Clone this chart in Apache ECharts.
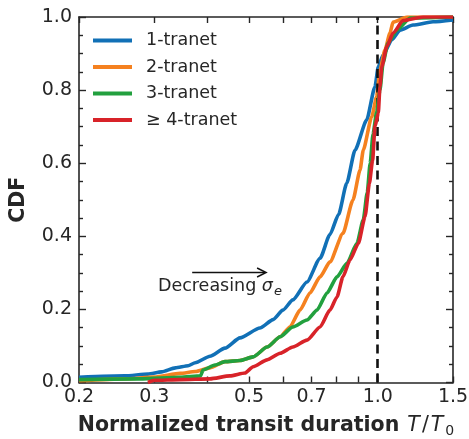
<!DOCTYPE html>
<html>
<head>
<meta charset="utf-8">
<script src="https://cdn.jsdelivr.net/npm/echarts@6/dist/echarts.min.js"></script>
<style>
  html, body { margin: 0; padding: 0; background: #ffffff; }
  #chart { width: 469px; height: 439px; }
</style>
</head>
<body>
<div id="chart"></div>
<script>
// Cumulative distributions of normalized transit duration, by multiplicity
const seriesNames = ['1-tranet', '2-tranet', '3-tranet', '\u2265 4-tranet'];
const seriesColors = ['#1170b6', '#f5811f', '#22a03e', '#d82329'];

// [T/T0, CDF]
const cdf1 = [[0.200,0.014],[0.256,0.018],[0.290,0.023],[0.312,0.029],[0.336,0.040],[0.360,0.046],
  [0.374,0.054],[0.405,0.072],[0.439,0.094],[0.476,0.122],[0.530,0.149],[0.569,0.172],[0.600,0.198],
  [0.633,0.226],[0.683,0.275],[0.733,0.340],[0.773,0.405],[0.810,0.460],[0.846,0.545],[0.885,0.636],
  [0.942,0.718],[0.985,0.809],[1.003,0.864],[1.029,0.896],[1.078,0.937],[1.128,0.964],[1.209,0.978],
  [1.347,0.987],[1.500,0.992]];
const cdf2 = [[0.200,0.005],[0.256,0.010],[0.300,0.015],[0.345,0.025],[0.374,0.030],[0.405,0.040],
  [0.439,0.057],[0.476,0.060],[0.511,0.070],[0.551,0.097],[0.591,0.125],[0.623,0.152],[0.658,0.198],
  [0.694,0.245],[0.733,0.289],[0.773,0.330],[0.829,0.408],[0.875,0.499],[0.909,0.581],[0.925,0.636],
  [0.968,0.727],[0.994,0.782],[1.012,0.855],[1.040,0.910],[1.068,0.956],[1.086,0.986],[1.171,1.000],
  [1.500,1.000]];
const cdf3 = [[0.200,0.008],[0.278,0.010],[0.345,0.014],[0.385,0.018],[0.390,0.034],[0.416,0.048],
  [0.439,0.057],[0.476,0.060],[0.511,0.070],[0.551,0.097],[0.591,0.125],[0.633,0.152],[0.683,0.171],
  [0.721,0.198],[0.761,0.245],[0.803,0.289],[0.847,0.326],[0.894,0.381],[0.925,0.445],[0.945,0.520],
  [0.960,0.600],[0.975,0.680],[0.994,0.740],[1.012,0.800],[1.029,0.874],[1.057,0.929],[1.108,0.964],
  [1.190,0.997],[1.500,1.000]];
const cdf4 = [[0.290,0.000],[0.300,0.006],[0.345,0.008],[0.405,0.010],[0.451,0.018],[0.489,0.026],
  [0.511,0.043],[0.551,0.062],[0.591,0.080],[0.633,0.097],[0.683,0.116],[0.733,0.152],[0.773,0.198],
  [0.803,0.234],[0.829,0.289],[0.861,0.335],[0.901,0.381],[0.934,0.454],[0.956,0.545],[0.973,0.609],
  [0.985,0.700],[1.003,0.737],[1.012,0.809],[1.022,0.864],[1.050,0.919],[1.086,0.956],[1.146,0.990],
  [1.276,1.000],[1.500,1.000]];

const xRange = [0.2, 1.5];
const xTickLabels = [0.2, 0.3, 0.5, 0.7, 1.0, 1.5];
const xMinorTicks = [0.2, 0.3, 0.4, 0.5, 0.6, 0.7, 0.8, 0.9, 1.0, 1.5];
const xMajorTicks = [1.0];
const yRange = [0, 1];
const yStep = 0.2;
const referenceX = 1.0;
const arrowFrom = [0.368, 0.301];
const arrowTo = [0.548, 0.301];
const noteAt = [0.306, 0.262];

const FONT = 'DejaVu Sans';
const INK = '#262626';
const lg = v => Math.log10(v);

const chart = echarts.init(document.getElementById('chart'), null, { renderer: 'canvas' });

const baseX = {
  type: 'value',
  min: lg(xRange[0]),
  max: lg(xRange[1]),
  splitLine: { show: false },
  axisLine: { show: true, onZero: false, lineStyle: { color: INK, width: 1.6 } }
};
const tickLine = { color: INK, width: 1.4 };

const curves = [cdf1, cdf2, cdf3, cdf4];
const series = curves.map((c, i) => ({
  name: seriesNames[i],
  type: 'line',
  data: c.map(p => [lg(p[0]), p[1]]),
  showSymbol: false,
  symbol: 'none',
  smooth: 0.2,
  smoothMonotone: 'x',
  lineStyle: { width: 3.6, color: seriesColors[i], join: 'round' },
  itemStyle: { color: seriesColors[i] },
  z: 3 + i,
  animation: false
}));
series.push({
  name: 'ref',
  type: 'line',
  data: [],
  z: 2,
  markLine: {
    silent: true,
    symbol: 'none',
    label: { show: false },
    animation: false,
    lineStyle: { color: '#111111', type: [9, 5.5], width: 2.6 },
    data: [{ xAxis: lg(referenceX) }]
  }
});

chart.setOption({
  animation: false,
  backgroundColor: '#ffffff',
  textStyle: { fontFamily: FONT },
  grid: { left: 79, right: 16, top: 17, bottom: 56.5, containLabel: false, outerBoundsMode: 'none' },
  legend: {
    data: seriesNames,
    orient: 'vertical',
    left: 93,
    top: 31.5,
    padding: 0,
    itemWidth: 39,
    itemHeight: 4,
    itemGap: 8.5,
    icon: 'rect',
    textStyle: { fontSize: 17.5, color: INK, fontFamily: FONT, padding: [0, 0, 0, 9] }
  },
  xAxis: [
    Object.assign({}, baseX, {
      position: 'bottom',
      axisLabel: {
        customValues: xTickLabels.map(lg),
        formatter: v => Math.pow(10, v).toFixed(1),
        fontSize: 19, color: INK, fontFamily: FONT, margin: 5
      },
      axisTick: { show: true, inside: true, length: 6, customValues: xMinorTicks.map(lg), lineStyle: tickLine },
      name: '{b|Normalized transit duration }{i|T}{r|/}{i|T}{s|0}',
      nameLocation: 'middle',
      nameGap: 31,
      nameTextStyle: {
        rich: {
          b: { fontSize: 20.5, fontWeight: 'bold', color: INK, fontFamily: FONT },
          i: { fontSize: 20.5, fontStyle: 'italic', color: INK, fontFamily: FONT, padding: [0, 1, 0, 1] },
          r: { fontSize: 20.5, color: INK, fontFamily: FONT, padding: [0, 1, 0, 1] },
          s: { fontSize: 14, color: INK, fontFamily: FONT, padding: [11, 0, 0, 1] }
        }
      }
    }),
    Object.assign({}, baseX, {
      position: 'bottom',
      axisLine: { show: false },
      axisLabel: { show: false },
      axisTick: { show: true, inside: true, length: 9, customValues: xMajorTicks.map(lg), lineStyle: tickLine }
    }),
    Object.assign({}, baseX, {
      position: 'top',
      axisLabel: { show: false },
      axisTick: { show: true, inside: true, length: 6, customValues: xMinorTicks.map(lg), lineStyle: tickLine }
    })
  ],
  yAxis: [
    {
      type: 'value', position: 'left',
      min: yRange[0], max: yRange[1], interval: yStep,
      splitLine: { show: false },
      axisLine: { show: true, onZero: false, lineStyle: { color: INK, width: 1.6 } },
      axisTick: { show: true, inside: true, length: 7, lineStyle: tickLine },
      minorTick: { show: true, splitNumber: 4, length: 4, lineStyle: tickLine },
      axisLabel: { formatter: v => v.toFixed(1), fontSize: 19, color: INK, fontFamily: FONT, margin: 7 },
      name: 'CDF',
      nameLocation: 'middle',
      nameGap: 50,
      nameTextStyle: { fontSize: 20.5, fontWeight: 'bold', color: INK, fontFamily: FONT }
    },
    {
      type: 'value', position: 'right',
      min: yRange[0], max: yRange[1], interval: yStep,
      splitLine: { show: false },
      axisLine: { show: true, onZero: false, lineStyle: { color: INK, width: 1.6 } },
      axisTick: { show: true, inside: true, length: 7, lineStyle: tickLine },
      minorTick: { show: true, splitNumber: 4, length: 4, lineStyle: tickLine },
      axisLabel: { show: false }
    }
  ],
  series: series
});

// Annotation: arrow with "Decreasing σ_e", anchored in data coordinates
const toPx = p => chart.convertToPixel({ xAxisIndex: 0, yAxisIndex: 0 }, [lg(p[0]), p[1]]);
const a0 = toPx(arrowFrom), a1 = toPx(arrowTo), t0 = toPx(noteAt);
chart.setOption({
  graphic: [
    {
      type: 'line', silent: true, z: 10,
      shape: { x1: a0[0], y1: a0[1], x2: a1[0] - 1, y2: a1[1] },
      style: { stroke: '#111111', lineWidth: 1.5 }
    },
    {
      type: 'polyline', silent: true, z: 10,
      shape: { points: [[a1[0] - 9, a1[1] - 4.5], [a1[0], a1[1]], [a1[0] - 9, a1[1] + 4.5]] },
      style: { stroke: '#111111', lineWidth: 1.5, fill: null }
    },
    {
      type: 'text', silent: true, z: 10,
      x: t0[0], y: t0[1],
      style: {
        text: '{n|Decreasing }{g|\u03c3}{e|e}',
        verticalAlign: 'middle',
        align: 'left',
        rich: {
          n: { fontSize: 17.5, fill: INK, fontFamily: FONT },
          g: { fontSize: 17.5, fill: INK, fontFamily: FONT, fontStyle: 'italic' },
          e: { fontSize: 13, fill: INK, fontFamily: FONT, fontStyle: 'italic', padding: [10, 0, 0, 1] }
        }
      }
    }
  ]
});
</script>
</body>
</html>
